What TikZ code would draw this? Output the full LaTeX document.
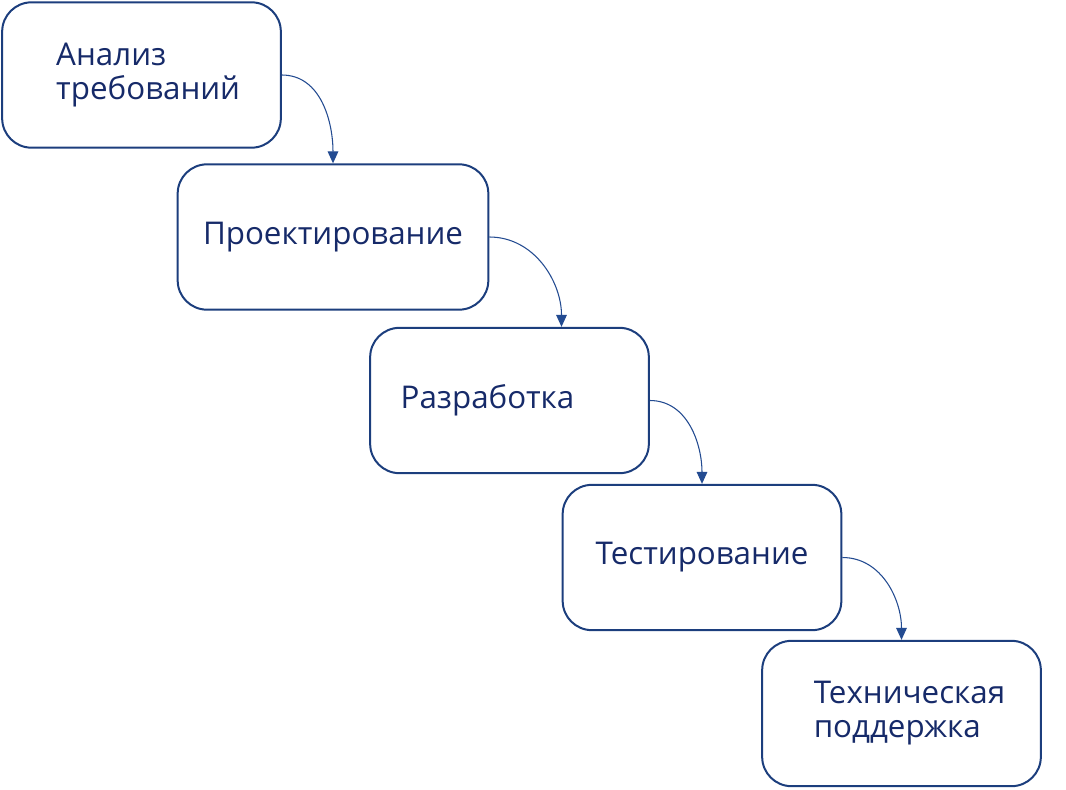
\documentclass[tikz,border=0pt]{standalone}
\usepackage{fontspec}
\setmainfont{Open Sans}
\usepackage{xcolor}
\definecolor{boxblue}{RGB}{28,62,125}
\definecolor{textnavy}{RGB}{22,42,105}
\definecolor{arrowblue}{RGB}{35,75,145}
\usetikzlibrary{arrows.meta}

\begin{document}
\begin{tikzpicture}[x=0.75pt, y=-0.75pt,
    stage/.style={draw=boxblue, line width=1.5pt, rounded corners=22pt,
        minimum width=209pt, minimum height=109pt, inner sep=0pt,
        text=textnavy, font=\fontsize{23.5}{25.5}\selectfont, align=left},
    flow/.style={-{Triangle[length=9pt, width=8pt]}, arrowblue, line width=0.8pt},
]
\useasboundingbox (0,0) rectangle (1066,789);

%% --- этапы каскадной модели ---
\node[stage] (req) at (141.5,75) {\hspace{10pt}Анализ\\\hspace{10pt}требований};
\node[stage, minimum width=233pt] (design) at (333,237) {Проектирование};
\node[stage] (dev) at (509.5,400.5) {Разработка\hspace{33pt}};
\node[stage] (test) at (702,557.5) {Тестирование};
\node[stage] (support) at (901.5,713.5) {\hspace{12pt}Техническая\\\hspace{12pt}поддержка};

%% --- точка входа стрелки в блок разработки ---
\coordinate (devin) at ([xshift=39pt]dev.north);

%% --- переходы между этапами ---
\draw[flow] (req.east) to[out=0, in=90] (design.north);
\draw[flow] (design.east) to[out=0, in=90] (devin);
\draw[flow] (dev.east) to[out=0, in=90] (test.north);
\draw[flow] (test.east) to[out=0, in=90] (support.north);

\end{tikzpicture}
\end{document}
